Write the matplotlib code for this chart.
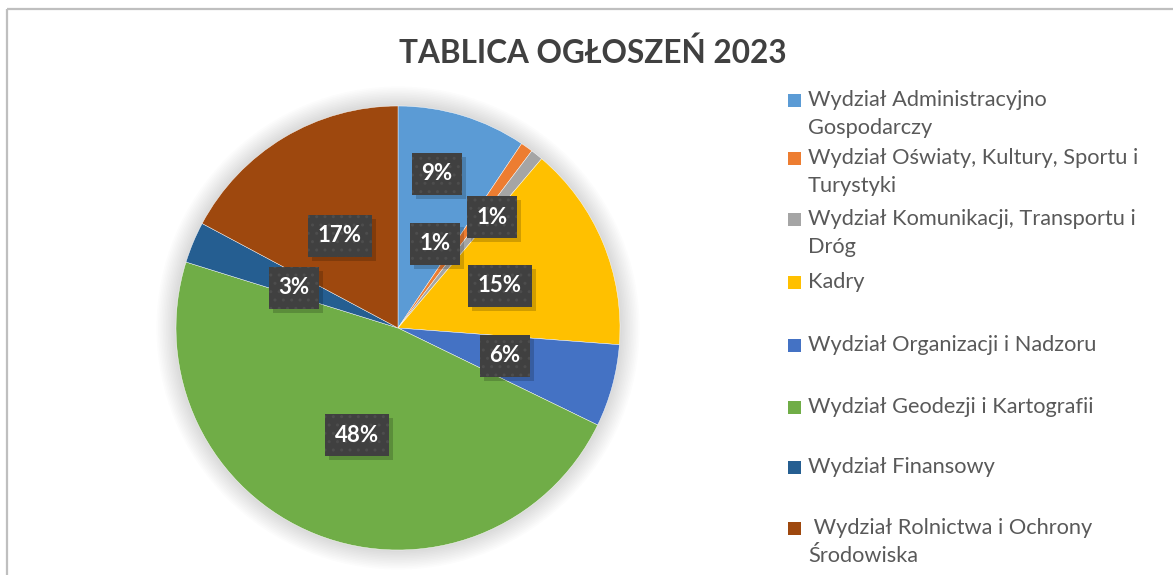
import numpy as np
import matplotlib
matplotlib.use("Agg")
import matplotlib.pyplot as plt
from matplotlib.patches import Rectangle, Circle

plt.rcParams["font.family"] = ["Lato", "DejaVu Sans"]

TITLE = "TABLICA OGŁOSZEŃ 2023"
categories = [
    "Wydział Administracyjno\nGospodarczy",
    "Wydział Oświaty, Kultury, Sportu i\nTurystyki",
    "Wydział Komunikacji, Transportu i\nDróg",
    "Kadry",
    "Wydział Organizacji i Nadzoru",
    "Wydział Geodezji i Kartografii",
    "Wydział Finansowy",
    " Wydział Rolnictwa i Ochrony\nŚrodowiska",
]
shares = [9.4, 0.9, 0.9, 15.0, 6.0, 47.6, 3.0, 17.2]
colors = ["#5B9BD5", "#ED7D31", "#A5A5A5", "#FFC000",
          "#4472C4", "#70AD47", "#255E91", "#9E480E"]

# label centres (pixel coords, origin top-left) - Excel "best fit" placement
label_pos = [(437, 174), (492, 217), (435, 244), (500, 286),
             (505, 356), (357, 435), (294, 288), (340, 236)]

W, H = 1173, 575
CX, CY, R = 398, 328, 222

fig = plt.figure(figsize=(W / 100, H / 100), dpi=100, facecolor="white")
ax = fig.add_axes([0, 0, 1, 1])

# frame of the chart area
ax.plot([7, 7], [0, H - 9], color="#bfbfbf", lw=1.6, solid_capstyle="butt")
ax.plot([7, W], [H - 9, H - 9], color="#bfbfbf", lw=1.6, solid_capstyle="butt")

# soft glow around the pie
for i in range(12):
    ax.add_patch(Circle((CX, H - CY), R + 2 + i * 1.6, color="#000000",
                        alpha=0.012, lw=0, zorder=1))

ax.pie(shares, colors=colors, startangle=90, counterclock=False,
       center=(CX, H - CY), radius=R, frame=True,
       wedgeprops=dict(linewidth=0.3, edgecolor="white", zorder=2))
ax.set_xlim(0, W)
ax.set_ylim(0, H)
ax.set_aspect("equal")
ax.axis("off")

# data labels: dark boxes, white bold text, drop shadow
for val, (px, py) in zip(shares, label_pos):
    txt = f"{val:.0f}%"
    w = 50 if len(txt) == 2 else 64
    h = 42
    x0, y0 = px - w / 2, H - py - h / 2
    ax.add_patch(Rectangle((x0 + 4, y0 - 4), w, h, color="#000000", alpha=0.18,
                           lw=0, zorder=5))
    ax.add_patch(Rectangle((x0, y0), w, h, facecolor="#404040",
                           edgecolor="#4d4d4d", hatch="..", lw=0, zorder=6))
    ax.text(px, H - py, txt, ha="center", va="center", color="white",
            fontsize=16, fontweight="bold", zorder=7)

ax.text(593, H - 53, TITLE, ha="center", va="center", color="#404040",
        fontsize=22.7, fontweight="bold")

# legend, drawn by hand to match Excel's layout (one text per line)
leg_y = [100, 158, 219, 282, 345, 407, 467, 528]
for lab, col, y in zip(categories, colors, leg_y):
    ax.add_patch(Rectangle((788, H - y - 6.5), 13, 13, color=col, lw=0))
    for k, line in enumerate(lab.split("\n")):
        ax.text(808, H - y - 28 * k, line, ha="left", va="center",
                color="#595959", fontsize=15.7)

fig.savefig("out.png", dpi=100, facecolor="white")
